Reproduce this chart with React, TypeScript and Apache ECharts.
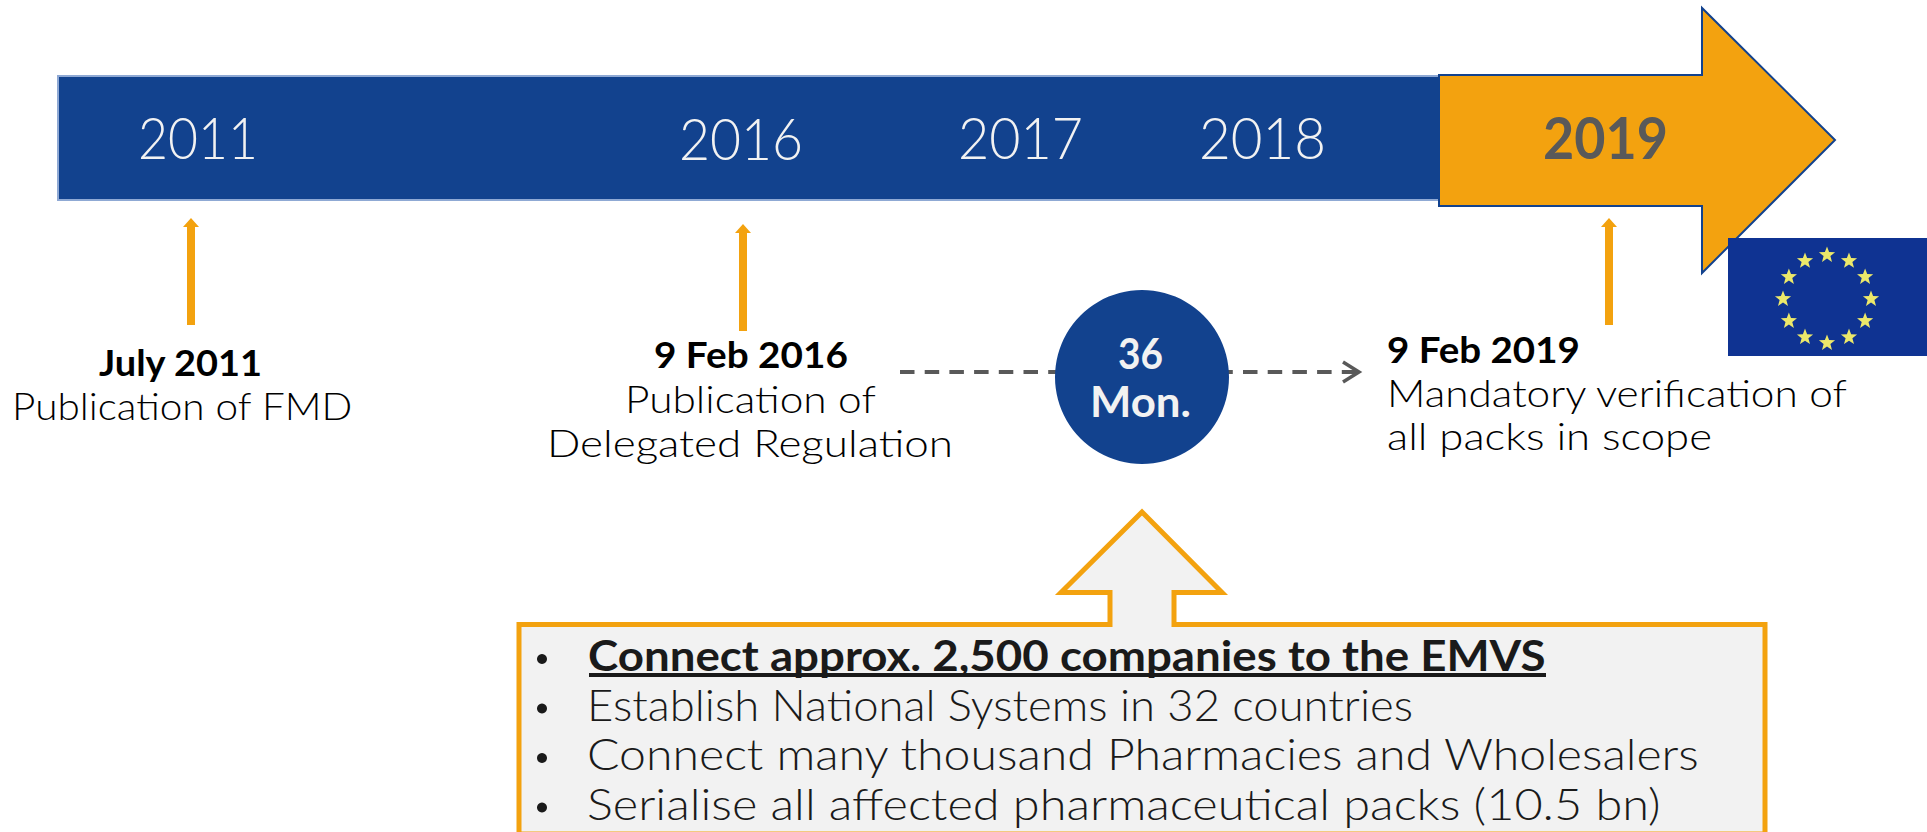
import React, { useEffect, useRef } from "react";
import * as echarts from "echarts";

const FONT = "Lato";
const BLUE = "#12428e";
const ORANGE = "#f3a20f";
const GREY = "#595959";

const yearLabels = ["2011", "2016", "2017", "2018", "2019"];
const milestoneDates = ["July 2011", "9 Feb 2016", "9 Feb 2019"];
const milestoneNotes = ["Publication of FMD", "Publication of", "Delegated Regulation", "Mandatory verification of", "all packs in scope"];
const durationLabels = ["36", "Mon."];
const tasks = [
  "Connect approx. 2,500 companies to the EMVS",
  "Establish National Systems in 32 countries",
  "Connect many thousand Pharmacies and Wholesalers",
  "Serialise all affected pharmaceutical packs (10.5 bn)",
];

const measure = document.createElement("canvas").getContext("2d") as CanvasRenderingContext2D;

function txt(text: string, left: number, right: number, baseline: number, size: number, weight: number, color: string) {
  const font = `${weight} ${size}px ${FONT}`;
  measure.font = font;
  const natural = measure.measureText(text).width;
  return {
    type: "text",
    x: left,
    y: baseline - size * 0.38,
    scaleX: (right - left) / natural,
    scaleY: 1,
    silent: true,
    style: { text, x: 0, y: 0, fill: color, font, align: "left", verticalAlign: "middle" },
  };
}

function upArrow(x: number, top: number, bottom: number) {
  return {
    type: "polygon",
    silent: true,
    shape: { points: [[x, top], [x + 8, top + 9], [x + 4, top + 9], [x + 4, bottom], [x - 4, bottom], [x - 4, top + 9], [x - 8, top + 9]] },
    style: { fill: ORANGE },
  };
}

function star(cx: number, cy: number, r: number) {
  const points: number[][] = [];
  for (let i = 0; i < 10; i++) {
    const a = -Math.PI / 2 + (i * Math.PI) / 5;
    const d = i % 2 === 0 ? r : r * 0.42;
    points.push([cx + d * Math.cos(a), cy + d * Math.sin(a)]);
  }
  return { type: "polygon", silent: true, shape: { points }, style: { fill: "#ece86a" } };
}

function buildGraphics() {
  const stars = Array.from({ length: 12 }, (_, i) => {
    const a = (i * Math.PI) / 6;
    return star(1827 + 44 * Math.cos(a), 299 + 44 * Math.sin(a), 8.5);
  });
  return [
    { type: "rect", silent: true, shape: { x: 58, y: 76, width: 1390, height: 124 }, style: { fill: BLUE, stroke: "#8fa9d4", lineWidth: 2 } },
    {
      type: "polygon",
      silent: true,
      shape: { points: [[1439, 75], [1702, 75], [1702, 8], [1835, 140], [1702, 273], [1702, 206], [1439, 206]] },
      style: { fill: ORANGE, stroke: BLUE, lineWidth: 2 },
    },
    { type: "rect", silent: true, shape: { x: 1728, y: 238, width: 199, height: 118 }, style: { fill: "#0f3392" } },
    ...stars,
    txt(yearLabels[0], 138, 258, 159, 57, 300, "#f2f2f2"),
    txt(yearLabels[1], 679, 803, 159, 57, 300, "#f2f2f2"),
    txt(yearLabels[2], 958, 1083, 159, 57, 300, "#f2f2f2"),
    txt(yearLabels[3], 1199, 1326, 159, 57, 300, "#f2f2f2"),
    txt(yearLabels[4], 1543, 1668, 159, 57, 700, GREY),
    upArrow(191, 218, 325),
    upArrow(743, 224, 331),
    upArrow(1609, 218, 325),
    txt(milestoneDates[0], 99, 263, 376, 37, 700, "#000"),
    txt(milestoneNotes[0], 12, 353, 419, 38, 300, "#000"),
    txt(milestoneDates[1], 654, 848, 368, 37, 700, "#000"),
    txt(milestoneNotes[1], 625, 876, 413, 38, 300, "#000"),
    txt(milestoneNotes[2], 547, 953, 457, 38, 300, "#000"),
    txt(milestoneDates[2], 1387, 1580, 363, 37, 700, "#000"),
    txt(milestoneNotes[3], 1387, 1849, 407, 38, 300, "#000"),
    txt(milestoneNotes[4], 1387, 1712, 450, 38, 300, "#000"),
    { type: "line", silent: true, shape: { x1: 900, y1: 372, x2: 1100, y2: 372 }, style: { stroke: GREY, lineWidth: 4, lineDash: [14.5, 10.2] } },
    { type: "line", silent: true, shape: { x1: 1218.3, y1: 372, x2: 1357, y2: 372 }, style: { stroke: GREY, lineWidth: 4, lineDash: [14.5, 10.2] } },
    { type: "polyline", silent: true, shape: { points: [[1343, 362], [1359, 372], [1343, 382]] }, style: { stroke: GREY, lineWidth: 3.5, fill: "none" } },
    { type: "circle", silent: true, shape: { cx: 1142, cy: 377, r: 87 }, style: { fill: BLUE } },
    txt(durationLabels[0], 1118, 1163, 369, 42, 700, "#f2f2f2"),
    txt(durationLabels[1], 1090, 1191, 417, 42, 700, "#f2f2f2"),
    {
      type: "polygon",
      silent: true,
      shape: { points: [[1110, 624.5], [1110, 592.5], [1061, 592.5], [1142, 512], [1222, 592.5], [1174, 592.5], [1174, 624.5], [1765, 624.5], [1765, 834], [519, 834], [519, 624.5]] },
      style: { fill: "#f2f2f2", stroke: ORANGE, lineWidth: 5 },
    },
    ...tasks.map((_, i) => ({ type: "circle", silent: true, shape: { cx: 542, cy: 659 + i * 49.5, r: 5 }, style: { fill: "#1a1a1a" } })),
    txt(tasks[0], 588, 1546, 671, 42, 700, "#1a1a1a"),
    { type: "line", silent: true, shape: { x1: 589, y1: 675, x2: 1546, y2: 675 }, style: { stroke: "#1a1a1a", lineWidth: 4 } },
    txt(tasks[1], 587, 1413, 720.5, 43, 300, "#1a1a1a"),
    txt(tasks[2], 587, 1702, 770, 43, 300, "#1a1a1a"),
    txt(tasks[3], 587, 1661, 819.5, 43, 300, "#1a1a1a"),
  ];
}

export default function App() {
  const ref = useRef<HTMLDivElement>(null);
  useEffect(() => {
    document.body.style.margin = "0";
    const chart = echarts.init(ref.current as HTMLDivElement, undefined, { renderer: "svg" });
    chart.setOption({ animation: false, backgroundColor: "#ffffff", graphic: { elements: buildGraphics() } });
    return () => chart.dispose();
  }, []);
  return <div ref={ref} style={{ width: 1927, height: 832, overflow: "hidden" }} />;
}
